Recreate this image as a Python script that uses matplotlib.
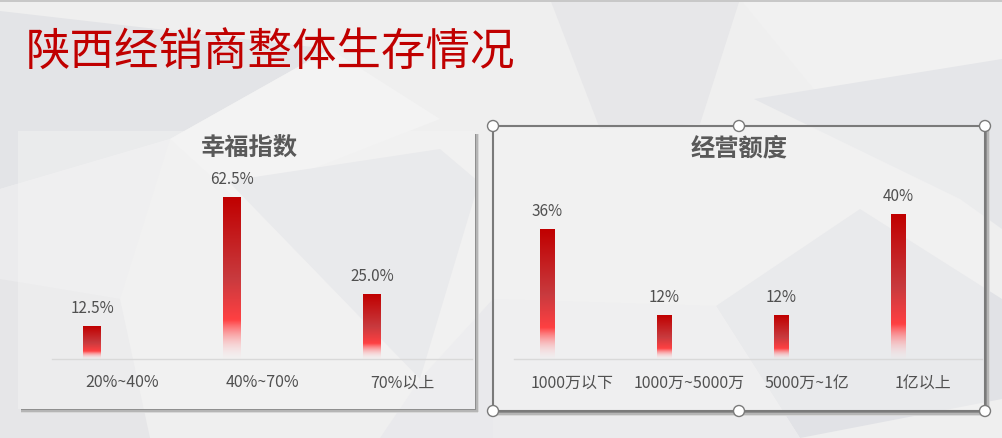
import numpy as np
import matplotlib.pyplot as plt
from matplotlib.patches import Polygon, Rectangle, Circle

plt.rcParams['font.family'] = ['Noto Sans CJK SC', 'DejaVu Sans']

# data
title = "陕西经销商整体生存情况"
happy_title = "幸福指数"
happy_cats = ["20%~40%", "40%~70%", "70%以上"]
happy_vals = [12.5, 62.5, 25.0]
happy_labels = ["12.5%", "62.5%", "25.0%"]
sales_title = "经营额度"
sales_cats = ["1000万以下", "1000万~5000万", "5000万~1亿", "1亿以上"]
sales_vals = [36, 12, 12, 40]
sales_labels = ["36%", "12%", "12%", "40%"]

W, H = 1002, 439
TXT = '#505050'


def gradient_img():
    # colour along the bar, top -> bottom
    t = np.linspace(0, 1, 256)
    stops = [0.0, 0.5, 0.76, 1.0]
    r = np.interp(t, stops, [192, 200, 255, 255]) / 255
    g = np.interp(t, stops, [0, 58, 64, 225]) / 255
    b = np.interp(t, stops, [0, 62, 66, 228]) / 255
    a = np.interp(t, stops, [1, 1, 1, 0.05])
    return np.stack([r, g, b, a], axis=1)[:, None, :]


def bar_chart(ax, cats, vals, labels, ymax, offset, width):
    img = gradient_img()
    for i, v in enumerate(vals):
        x0 = i + offset - width / 2
        ax.imshow(img, extent=(x0, x0 + width, 0, v), aspect='auto',
                  interpolation='bilinear', zorder=2)
        ax.annotate(labels[i], xy=(i + offset, v), xytext=(0, 13.7),
                    textcoords='offset points', ha='center', va='center',
                    fontsize=11, color=TXT)
        ax.annotate(cats[i], xy=(i, 0), xycoords=('data', 'axes fraction'),
                    xytext=(0, -16.5), textcoords='offset points',
                    ha='center', va='center', fontsize=11.5, color=TXT)
    ax.set_xlim(-0.5, len(vals) - 0.5)
    ax.set_ylim(0, ymax)
    ax.set_facecolor('none')
    for s in ['top', 'left', 'right']:
        ax.spines[s].set_visible(False)
    ax.spines['bottom'].set_color('#d9d9d9')
    ax.spines['bottom'].set_linewidth(1)
    ax.set_xticks([])
    ax.set_yticks([])


def shadow(ax, x0, y0, x1, y1):
    # soft shadow along right and bottom edges
    for d, c in [(0, '#8f8f8f'), (1.5, '#b5b5b5'), (3, '#d8d8d8')]:
        ax.add_patch(Rectangle((x1 + d, y0 + 3), 1.5, y1 - y0, facecolor=c,
                               edgecolor='none', zorder=1))
        ax.add_patch(Rectangle((x0 + 3, y1 + d), x1 - x0, 1.5, facecolor=c,
                               edgecolor='none', zorder=1))


fig = plt.figure(figsize=(W / 100, H / 100), dpi=100)
fig.patch.set_facecolor('#efefef')

# background: light low-poly pattern
bg = fig.add_axes([0, 0, 1, 1])
bg.set_xlim(0, W)
bg.set_ylim(H, 0)
bg.axis('off')
polys = [
    ('#e3e4e7', [(0, 12), (330, 50), (170, 140), (0, 190)]),
    ('#ebebed', [(0, 190), (170, 140), (120, 300), (0, 280)]),
    ('#e6e6e8', [(0, 280), (120, 300), (150, 439), (0, 439)]),
    ('#f3f3f3', [(170, 140), (330, 50), (440, 120), (236, 200)]),
    ('#e1e2e6', [(228, 182), (440, 150), (479, 183), (420, 380)]),
    ('#e7e7e9', [(550, 0), (740, 0), (700, 125), (600, 130)]),
    ('#f1f1f1', [(740, 0), (1002, 0), (1002, 60), (830, 110)]),
    ('#e5e6e9', [(754, 100), (1002, 60), (1002, 230), (960, 200)]),
    ('#e1e2e6', [(716, 307), (860, 210), (1002, 300), (1002, 400), (800, 439)]),
    ('#ebebed', [(493, 300), (716, 307), (800, 439), (493, 439)]),
    ('#e9e9ec', [(420, 380), (493, 300), (493, 439), (380, 439)]),
]
for c, pts in polys:
    bg.add_patch(Polygon(pts, closed=True, facecolor=c, edgecolor='none', zorder=0))
bg.add_patch(Rectangle((0, 0), W, 2.5, facecolor='#c8c8c8', edgecolor='none', zorder=1))

# left panel
bg.add_patch(Rectangle((18, 132), 457, 278, facecolor='#f4f4f4', alpha=0.45,
                       edgecolor='none', zorder=1))
shadow(bg, 18, 132, 475, 410)

# right panel (selected)
bg.add_patch(Rectangle((493, 127), 492, 285, facecolor='#f4f4f4', alpha=0.45,
                       edgecolor='none', zorder=1))
shadow(bg, 493, 127, 986, 413)
bg.add_patch(Rectangle((493, 127), 492, 285, facecolor='none',
                       edgecolor='#7a7a7a', linewidth=1.5, zorder=2))
for cx in (493, 739, 985):
    for cy in (127, 412):
        bg.add_patch(Circle((cx, cy), 5.5, facecolor='white', edgecolor='#7a7a7a',
                            linewidth=1, zorder=3))

# titles
bg.text(26, 53, title, fontsize=32, color='#c00000', ha='left', va='center')
bg.text(249, 149, happy_title, fontsize=17.5, fontweight='bold', color='#595959',
        ha='center', va='center')
bg.text(739, 149, sales_title, fontsize=17.5, fontweight='bold', color='#595959',
        ha='center', va='center')

ax1 = fig.add_axes([52 / W, 1 - 360 / H, 420 / W, 200 / H])
bar_chart(ax1, happy_cats, happy_vals, happy_labels, 200 / 2.58, -30 / 140, 18 / 140)

ax2 = fig.add_axes([514 / W, 1 - 360 / H, 468 / W, 200 / H])
bar_chart(ax2, sales_cats, sales_vals, sales_labels, 200 / 3.61, -25 / 117, 15 / 117)

fig.savefig('out.png', dpi=100, facecolor=fig.get_facecolor())
